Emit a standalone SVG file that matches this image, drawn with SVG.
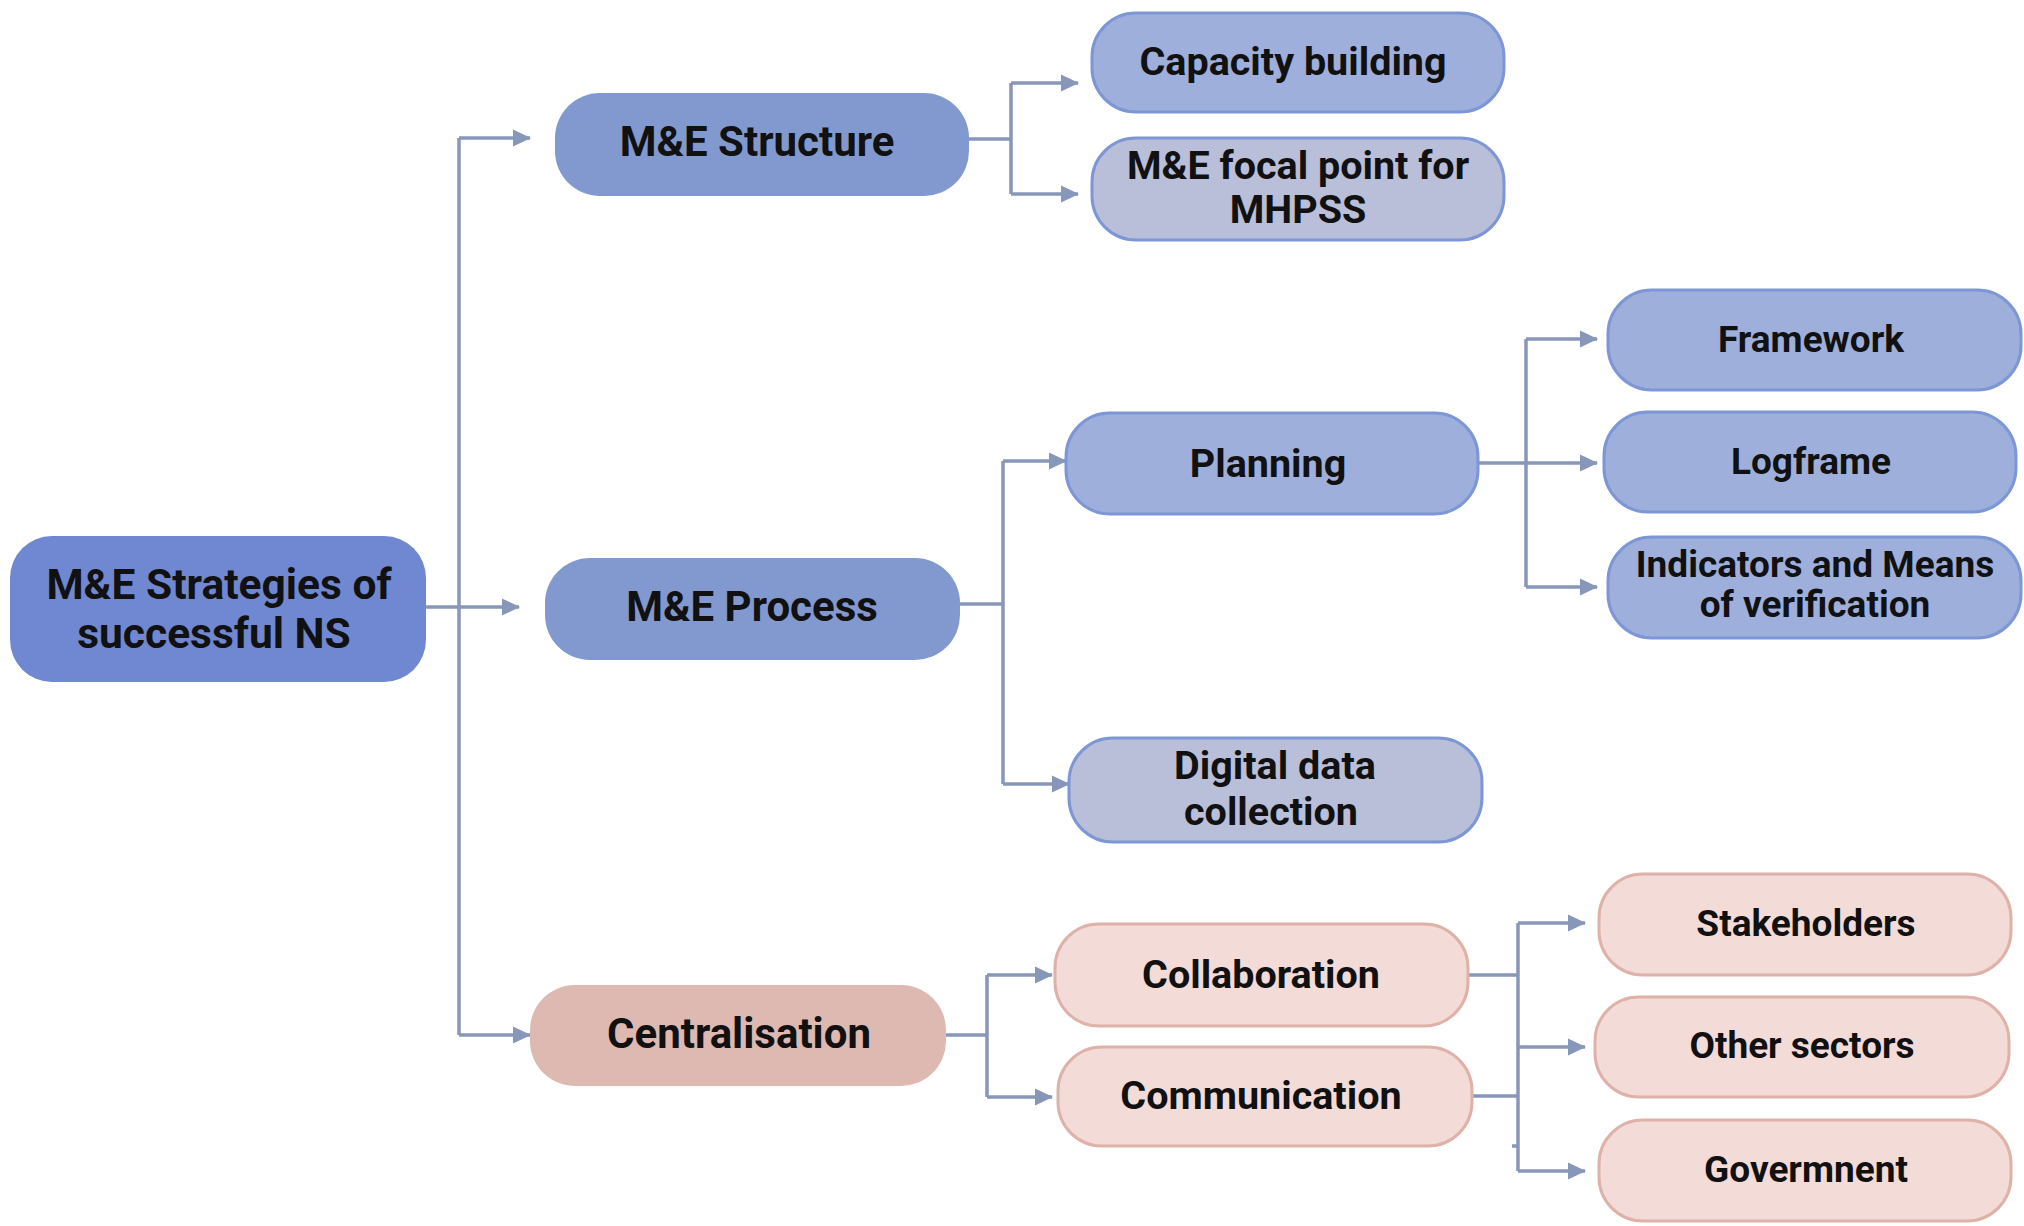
<svg xmlns="http://www.w3.org/2000/svg" width="2024" height="1226" viewBox="0 0 2024 1226">
<style>
text{font-family:Roboto,"Liberation Sans",sans-serif;font-weight:700;fill:#111;text-anchor:middle}
.t0{font-size:42.5px}.t1{font-size:42px}.t2{font-size:39.5px}.t3{font-size:37px}
.root{fill:#6F88D1}
.l1b{fill:#8299D0}
.l2b{fill:#9EAFDC;stroke:#7C96D6;stroke-width:3}
.l2g{fill:#B9BED9;stroke:#7C96D6;stroke-width:3}
.l1p{fill:#DDB9B1}
.l2p{fill:#F3DBD7;stroke:#DEB2A9;stroke-width:3}
.c{fill:none;stroke:#8797B9;stroke-width:3.5}
.a{fill:none;stroke:#8797B9;stroke-width:3.5;marker-end:url(#ah)}
</style>
<defs>
<marker id="ah" markerUnits="userSpaceOnUse" markerWidth="20" markerHeight="20" refX="17" refY="10" orient="auto">
<path d="M0,1.5 L18,10 L0,18.5 Z" fill="#8797B9"/>
</marker>
</defs>
<rect width="2024" height="1226" fill="#fff"/>
<g id="connectors">
<path class="a" d="M426,607 H519"/>
<path class="c" d="M459,138 V1035"/>
<path class="a" d="M459,138 H530"/>
<path class="a" d="M459,1035 H530"/>
<path class="c" d="M969,139 H1011"/>
<path class="c" d="M1011,83 V194"/>
<path class="a" d="M1011,83 H1078"/>
<path class="a" d="M1011,194 H1078"/>
<path class="c" d="M960,604 H1003"/>
<path class="c" d="M1003,461 V784"/>
<path class="a" d="M1003,461 H1066"/>
<path class="a" d="M1003,784 H1069"/>
<path class="a" d="M1478,463 H1597"/>
<path class="c" d="M1526,339 V587"/>
<path class="a" d="M1526,339 H1597"/>
<path class="a" d="M1526,587 H1597"/>
<path class="c" d="M946,1035 H987"/>
<path class="c" d="M987,975 V1097"/>
<path class="a" d="M987,975 H1052"/>
<path class="a" d="M987,1097 H1052"/>
<path class="c" d="M1468,975 H1518"/>
<path class="c" d="M1472,1096 H1518"/>
<path class="c" d="M1518,923 V1171"/>
<path class="a" d="M1518,923 H1585"/>
<path class="a" d="M1518,1047 H1585"/>
<path class="a" d="M1518,1171 H1585"/>
<path class="c" d="M1512,1146 H1518" stroke-width="2.5"/>
</g>
<g id="root"><rect class="root" x="10" y="536" width="416" height="146" rx="42"/>
<text class="t0" x="219" y="599">M&amp;E Strategies of</text><text class="t0" x="214" y="648">successful NS</text></g>
<g id="me-structure"><rect class="l1b" x="555" y="93" width="414" height="103" rx="45"/>
<text class="t1" x="757" y="156">M&amp;E Structure</text></g>
<g id="me-process"><rect class="l1b" x="545" y="558" width="415" height="102" rx="45"/>
<text class="t1" x="752" y="621">M&amp;E Process</text></g>
<g id="centralisation"><rect class="l1p" x="530" y="985" width="416" height="101" rx="45"/>
<text class="t1" x="739" y="1048">Centralisation</text></g>
<g id="capacity-building"><rect class="l2b" x="1092" y="13" width="412" height="99" rx="44"/>
<text class="t2" x="1293" y="75">Capacity building</text></g>
<g id="focal-point"><rect class="l2g" x="1092" y="138" width="412" height="102" rx="44"/>
<text class="t2" x="1298" y="179">M&amp;E focal point for</text><text class="t2" x="1298" y="223">MHPSS</text></g>
<g id="planning"><rect class="l2b" x="1066" y="413" width="412" height="101" rx="44"/>
<text class="t2" x="1268" y="477">Planning</text></g>
<g id="digital-data"><rect class="l2g" x="1069" y="738" width="413" height="104" rx="44"/>
<text class="t2" x="1275" y="779">Digital data</text><text class="t2" x="1271" y="825">collection</text></g>
<g id="framework"><rect class="l2b" x="1608" y="290" width="413" height="100" rx="44"/>
<text class="t3" x="1811" y="352">Framework</text></g>
<g id="logframe"><rect class="l2b" x="1604" y="412" width="412" height="100" rx="44"/>
<text class="t3" x="1811" y="474">Logframe</text></g>
<g id="indicators"><rect class="l2b" x="1608" y="537" width="413" height="101" rx="44"/>
<text class="t3" x="1815" y="577">Indicators and Means</text><text class="t3" x="1815" y="617">of verification</text></g>
<g id="collaboration"><rect class="l2p" x="1055" y="924" width="413" height="102" rx="44"/>
<text class="t2" x="1261" y="988">Collaboration</text></g>
<g id="communication"><rect class="l2p" x="1058" y="1047" width="414" height="99" rx="44"/>
<text class="t2" x="1261" y="1109">Communication</text></g>
<g id="stakeholders"><rect class="l2p" x="1599" y="874" width="412" height="101" rx="44"/>
<text class="t3" x="1806" y="936">Stakeholders</text></g>
<g id="other-sectors"><rect class="l2p" x="1595" y="997" width="414" height="100" rx="44"/>
<text class="t3" x="1802" y="1058">Other sectors</text></g>
<g id="government"><rect class="l2p" x="1599" y="1120" width="412" height="101" rx="44"/>
<text class="t3" x="1806" y="1182">Govermnent</text></g>
</svg>
